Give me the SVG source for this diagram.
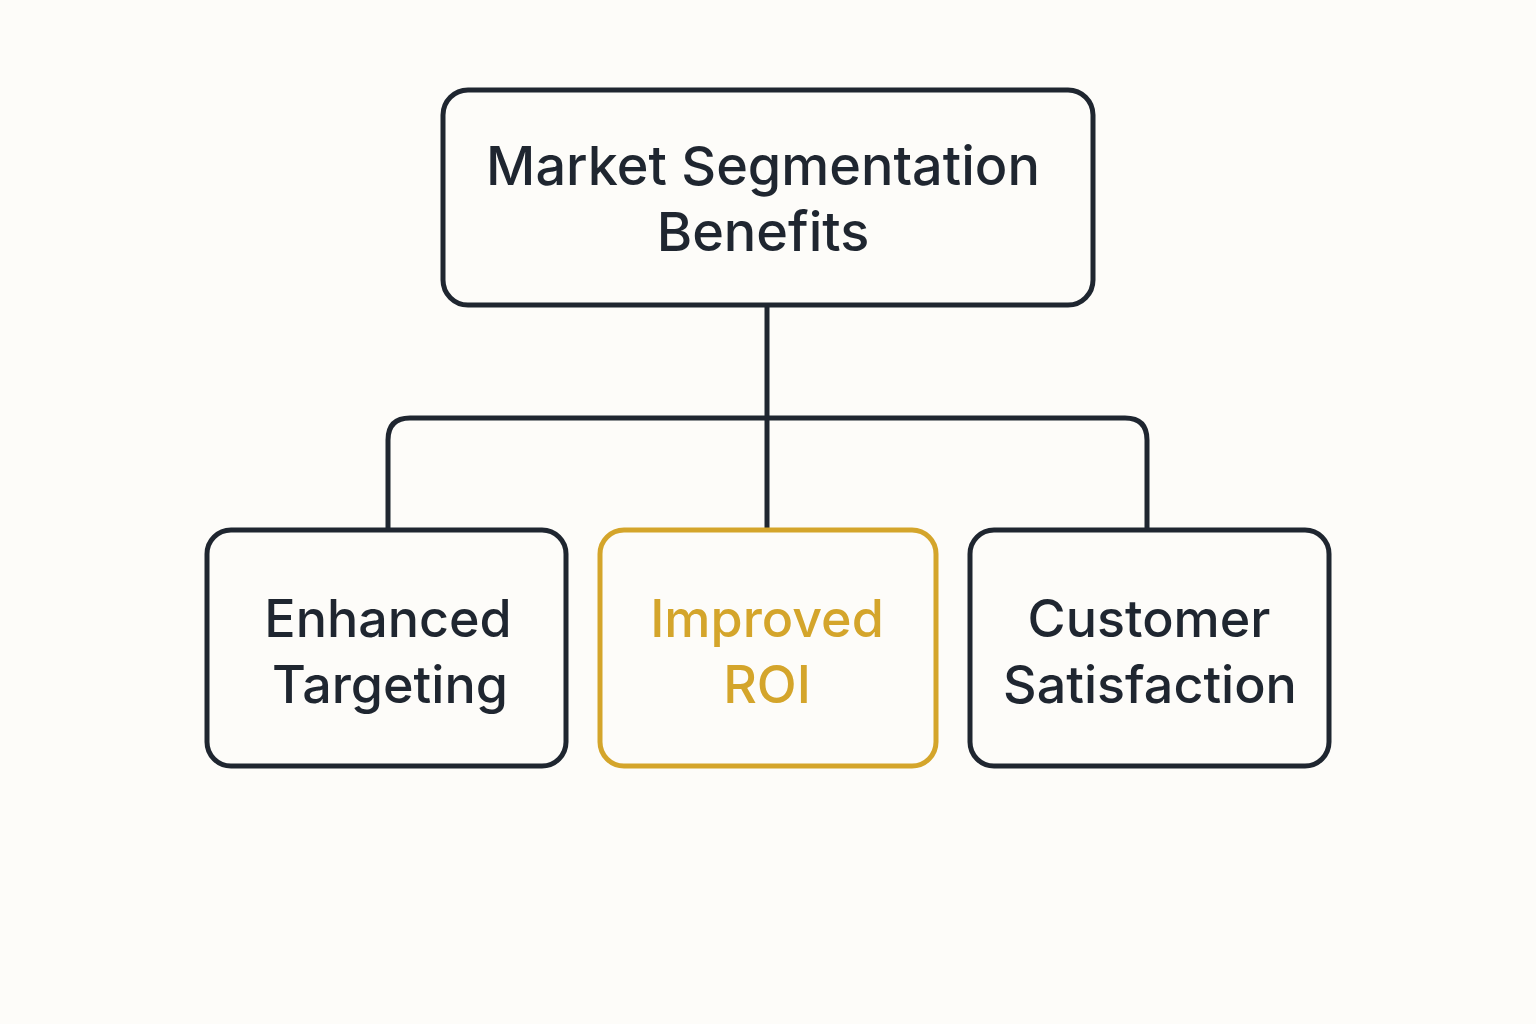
<svg xmlns="http://www.w3.org/2000/svg" width="1536" height="1024" viewBox="0 0 1536 1024">
<style>
.box{fill:none;stroke:#1f2630;stroke-width:5}
.gold{fill:none;stroke:#d4a52b;stroke-width:5}
.t{font-family:Inter,"Liberation Sans",sans-serif;font-size:52px;fill:#1f2630;text-anchor:middle;font-weight:500}
.big{font-size:54px}
.tg{fill:#d4a52b}
.c{fill:none;stroke:#1f2630;stroke-width:5;stroke-linejoin:round}
</style>
<rect width="1536" height="1024" fill="#fdfcf9"/>
<g id="connectors">
<path class="c" d="M767 305 V528"/>
<path class="c" d="M388 530 V440 Q388 418 410 418 H1125 Q1147 418 1147 440 V530"/>
</g>
<g id="root">
<rect class="box" x="443" y="90" width="650" height="215" rx="25"/>
<text class="t big" x="763" y="185">Market Segmentation</text>
<text class="t big" x="763" y="251">Benefits</text>
</g>
<g id="enhanced">
<rect class="box" x="207" y="530" width="359" height="236" rx="24"/>
<text class="t" x="388" y="637">Enhanced</text>
<text class="t" x="390" y="703">Targeting</text>
</g>
<g id="roi">
<rect class="gold" x="600" y="530" width="336" height="236" rx="24"/>
<text class="t tg" x="767" y="637">Improved</text>
<text class="t tg" x="767" y="703">ROI</text>
</g>
<g id="customer">
<rect class="box" x="970" y="530" width="359" height="236" rx="24"/>
<text class="t" x="1149" y="637">Customer</text>
<text class="t" x="1150" y="703">Satisfaction</text>
</g>
</svg>
